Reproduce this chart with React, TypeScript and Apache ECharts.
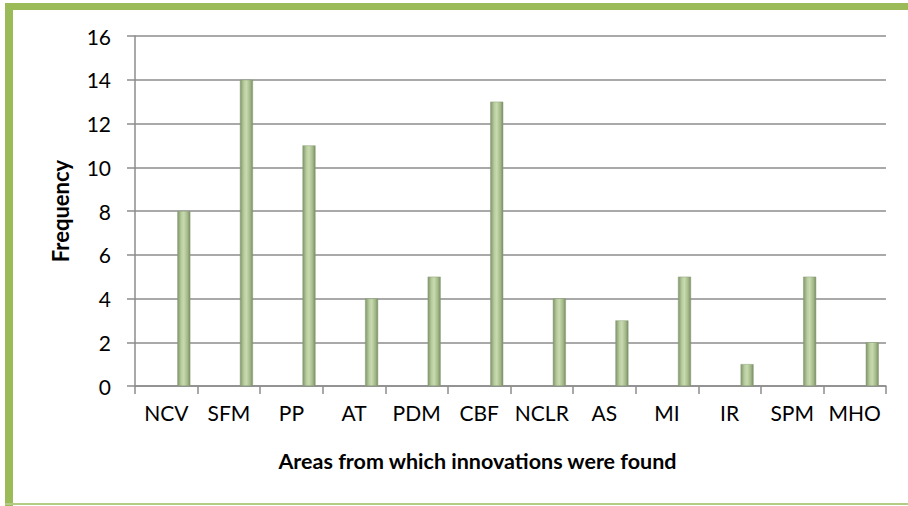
import React, { useEffect, useRef } from "react";
import * as echarts from "echarts";

const categories = ["NCV", "SFM", "PP", "AT", "PDM", "CBF", "NCLR", "AS", "MI", "IR", "SPM", "MHO"];
const frequency = [8, 14, 11, 4, 5, 13, 4, 3, 5, 1, 5, 2];
const yTicks = [0, 2, 4, 6, 8, 10, 12, 14, 16];

const FONT = "Lato, 'Open Sans', sans-serif";

export default function App() {
  const ref = useRef<HTMLDivElement>(null);
  useEffect(() => {
    document.body.style.margin = "0";
    const chart = echarts.init(ref.current!, null, { renderer: "svg" });
    const barColor = new echarts.graphic.LinearGradient(0, 0, 1, 0, [
      { offset: 0, color: "#7f956a" },
      { offset: 0.3, color: "#b9cd9f" },
      { offset: 0.5, color: "#c8daaf" },
      { offset: 0.8, color: "#a2b888" },
      { offset: 1, color: "#788c62" },
    ]);
    chart.setOption({
      animation: false,
      backgroundColor: "#ffffff",
      graphic: [
        { type: "rect", shape: { x: 5, y: 3, width: 903, height: 7 }, style: { fill: "#9bbb59" } },
        { type: "rect", shape: { x: 5, y: 3, width: 8, height: 503 }, style: { fill: "#9bbb59" } },
        { type: "rect", shape: { x: 5, y: 503, width: 903, height: 2 }, style: { fill: "#b3cc85" } },
      ],
      grid: { left: 135, right: 22, top: 36, bottom: 120, containLabel: false },
      xAxis: {
        type: "category",
        data: categories,
        name: "Areas from which innovations were found",
        nameLocation: "middle",
        nameGap: 64,
        nameTextStyle: { fontFamily: FONT, fontSize: 21.5, fontWeight: "bold", color: "#000", padding: [0, 66, 0, 0] },
        axisLine: { lineStyle: { color: "#8c8c8c", width: 1.5 } },
        axisTick: { show: true, length: 8, alignWithLabel: false, lineStyle: { color: "#8c8c8c", width: 1.5 } },
        axisLabel: { fontFamily: FONT, fontSize: 21, color: "#000", margin: 16, interval: 0 },
      },
      yAxis: {
        type: "value",
        min: yTicks[0],
        max: yTicks[yTicks.length - 1],
        interval: 2,
        name: "Frequency",
        nameLocation: "middle",
        nameGap: 64,
        nameRotate: 90,
        nameTextStyle: { fontFamily: FONT, fontSize: 22, fontWeight: "bold", color: "#000" },
        axisLine: { show: true, lineStyle: { color: "#8c8c8c", width: 1.5 } },
        axisTick: { show: true, length: 8, lineStyle: { color: "#8c8c8c", width: 1.5 } },
        axisLabel: { fontFamily: FONT, fontSize: 21, color: "#000", margin: 24 },
        splitLine: { show: true, lineStyle: { color: "#8c8c8c", width: 1.5 } },
      },
      series: [
        {
          type: "bar",
          name: "spacer",
          data: categories.map(() => null),
          barWidth: 13,
          barGap: "170%",
          silent: true,
        },
        {
          type: "bar",
          name: "Frequency",
          data: frequency,
          barWidth: 13,
          barGap: "170%",
          itemStyle: { color: barColor, borderColor: "#8a9e74", borderWidth: 0.5 },
        },
      ],
    });
    return () => chart.dispose();
  }, []);
  return <div ref={ref} style={{ width: 908, height: 506 }} />;
}
